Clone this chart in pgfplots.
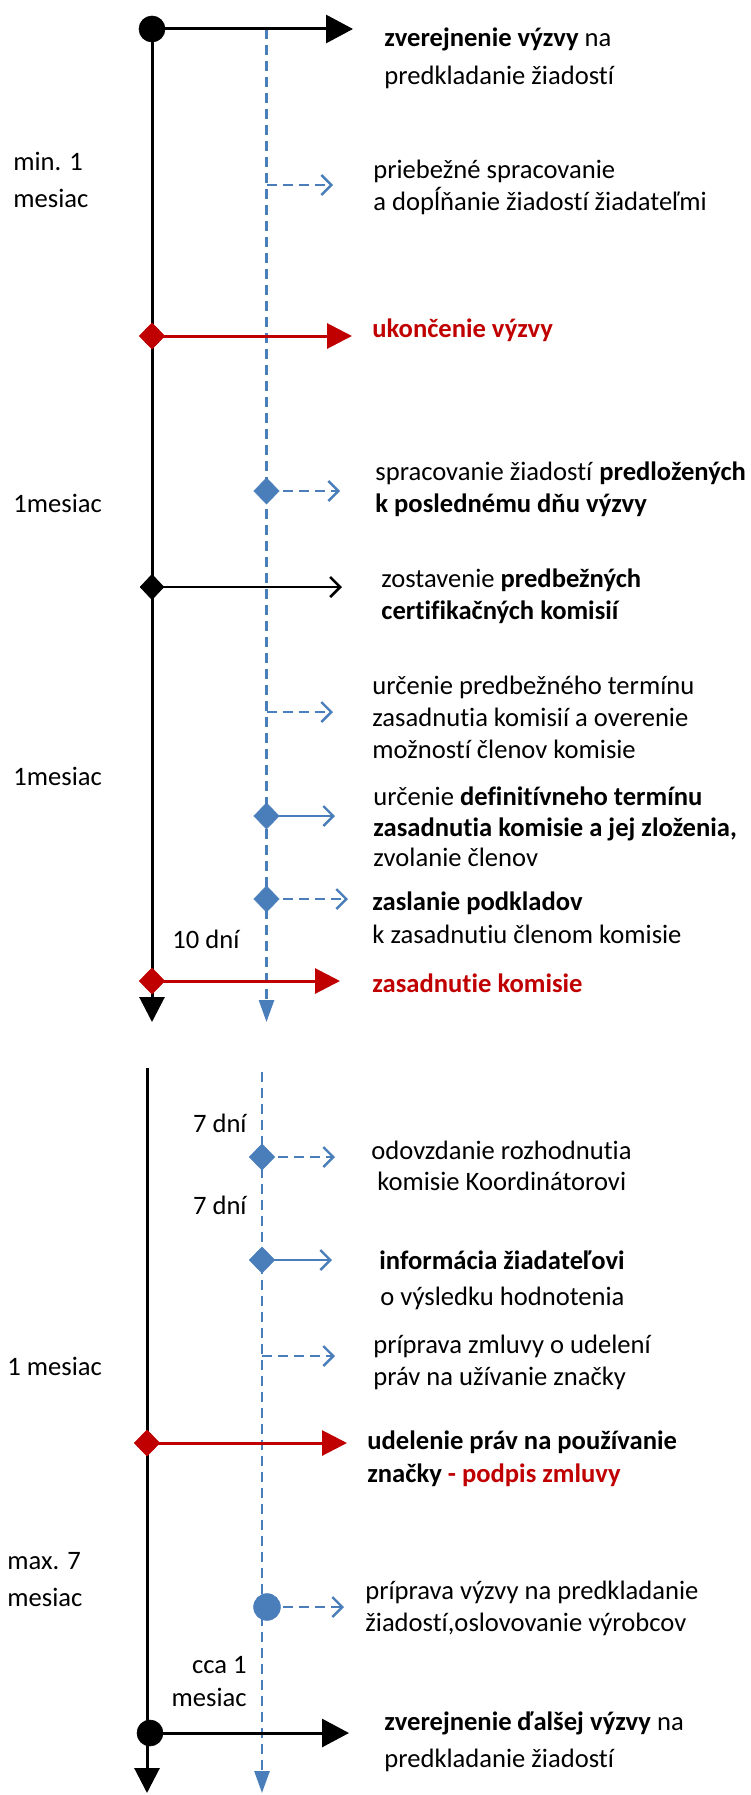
\documentclass[border=0pt]{standalone}
\usepackage{pgfplots}
\pgfplotsset{compat=1.18}
\usetikzlibrary{arrows.meta}
\usepackage{fontspec}
\setmainfont{Carlito}[Ligatures={NoCommon}]
\definecolor{obl}{HTML}{4A7EBB}
\definecolor{ored}{HTML}{C00000}
\begin{document}
\begin{tikzpicture}[
  lbl/.style={anchor=west, inner sep=0pt, text height=9bp, text depth=2bp, font=\fontsize{13.3bp}{16bp}\selectfont},
  lblr/.style={lbl, anchor=east},
]
\begin{axis}[
  width=375.5bp, height=897.5bp, scale only axis,
  xmin=0, xmax=751, ymin=0, ymax=1795, y dir=reverse,
  hide axis, clip=false,
]
\addplot[draw=none, forget plot] coordinates {(0,0) (751,1795)};

% vertical timelines
\addplot[black, line width=1.5bp, -{Triangle[length=12.5bp,width=12.5bp]}] coordinates {(152,29) (152,1022)};
\addplot[black, line width=1.5bp, -{Triangle[length=12.5bp,width=12.5bp]}] coordinates {(147,1068) (147,1793)};
\addplot[obl, line width=1.3bp, dash pattern=on 5bp off 3bp, -{Triangle[length=11bp,width=7.5bp]}] coordinates {(266.5,29) (266.5,1022)};
\addplot[obl, line width=1.3bp, dash pattern=on 5bp off 3bp, -{Triangle[length=11bp,width=7.5bp]}] coordinates {(262,1072) (262,1793)};

% main (black / red) horizontal arrows
\addplot[black, line width=1.5bp, -{Triangle[length=13.5bp,width=14bp]}] coordinates {(152,29) (353,29)};
\addplot[ored, line width=1.5bp, -{Triangle[length=12.5bp,width=12.5bp]}] coordinates {(152,336) (352,336)};
\addplot[black, line width=1.3bp, -{Straight Barb[length=5bp,width=10bp]}] coordinates {(152,587) (342,587)};
\addplot[ored, line width=1.5bp, -{Triangle[length=12.5bp,width=12.5bp]}] coordinates {(152,981) (340,981)};
\addplot[ored, line width=1.5bp, -{Triangle[length=12.5bp,width=12.5bp]}] coordinates {(147,1443) (347,1443)};
\addplot[black, line width=1.5bp, -{Triangle[length=13.5bp,width=14bp]}] coordinates {(150,1733) (349,1733)};

% blue side arrows
\addplot[obl, line width=1.2bp, dash pattern=on 5bp off 3bp, -{Straight Barb[length=5bp,width=10bp]}] coordinates {(266.5,185) (333,185)};
\addplot[obl, line width=1.2bp, dash pattern=on 5bp off 3bp, -{Straight Barb[length=5bp,width=10bp]}] coordinates {(266.5,491) (340,491)};
\addplot[obl, line width=1.2bp, dash pattern=on 5bp off 3bp, -{Straight Barb[length=5bp,width=10bp]}] coordinates {(266.5,712) (333,712)};
\addplot[obl, line width=1.2bp, -{Straight Barb[length=5bp,width=10bp]}] coordinates {(266.5,816) (335,816)};
\addplot[obl, line width=1.2bp, dash pattern=on 5bp off 3bp, -{Straight Barb[length=5bp,width=10bp]}] coordinates {(266.5,899) (348,899)};
\addplot[obl, line width=1.2bp, dash pattern=on 5bp off 3bp, -{Straight Barb[length=5bp,width=10bp]}] coordinates {(262,1157) (335,1157)};
\addplot[obl, line width=1.2bp, -{Straight Barb[length=5bp,width=10bp]}] coordinates {(262,1260) (332,1260)};
\addplot[obl, line width=1.2bp, dash pattern=on 5bp off 3bp, -{Straight Barb[length=5bp,width=10bp]}] coordinates {(262,1356) (335,1356)};
\addplot[obl, line width=1.2bp, dash pattern=on 5bp off 3bp, -{Straight Barb[length=5bp,width=10bp]}] coordinates {(267,1607) (344,1607)};

% markers
\addplot[black, only marks, mark=*, mark size=6.5bp, mark options={solid, fill=black, draw=black, line width=0.3bp}] coordinates {(152,29) (150,1733)};
\addplot[ored, only marks, mark=diamond*, mark size=6.5bp, mark options={solid, xscale=1.3, fill=ored, draw=ored, line width=0.3bp}] coordinates {(152,336) (152,981) (147,1443)};
\addplot[black, only marks, mark=diamond*, mark size=6.3bp, mark options={solid, xscale=1.25, fill=black, draw=black, line width=0.3bp}] coordinates {(152,587)};
\addplot[obl, only marks, mark=diamond*, mark size=6.5bp, mark options={solid, xscale=1.3, fill=obl, draw=obl, line width=0.3bp}] coordinates {(266.5,491) (266.5,816) (266.5,899) (262,1157) (262,1260)};
\addplot[obl, only marks, mark=*, mark size=6.7bp, mark options={solid, fill=obl, draw=obl, line width=0.3bp}] coordinates {(267,1607)};

% right-hand texts
\node[lbl] at (axis cs:384,40) {\textbf{zverejnenie výzvy} na};
\node[lbl] at (axis cs:384,77) {predkladanie žiadostí};
\node[lbl] at (axis cs:373,171) {priebežné spracovanie};
\node[lbl] at (axis cs:373,203) {a dopĺňanie žiadostí žiadateľmi};
\node[lbl, text=ored] at (axis cs:372,330) {\textbf{ukončenie výzvy}};
\node[lbl] at (axis cs:375,473) {spracovanie žiadostí \textbf{predložených}};
\node[lbl] at (axis cs:375,505) {\textbf{k poslednému dňu výzvy}};
\node[lbl] at (axis cs:381,580) {zostavenie \textbf{predbežných}};
\node[lbl] at (axis cs:381,612) {\textbf{certifikačných komisií}};
\node[lbl] at (axis cs:372,687) {určenie predbežného termínu};
\node[lbl] at (axis cs:372,719) {zasadnutia komisií a overenie};
\node[lbl] at (axis cs:372,751) {možností členov komisie};
\node[lbl] at (axis cs:373,798) {určenie \textbf{definitívneho termínu}};
\node[lbl] at (axis cs:373,829) {\textbf{zasadnutia komisie a jej zloženia,}};
\node[lbl] at (axis cs:373,859) {zvolanie členov};
\node[lbl] at (axis cs:372,903) {\textbf{zaslanie podkladov}};
\node[lbl] at (axis cs:372,936) {k zasadnutiu členom komisie};
\node[lbl, text=ored] at (axis cs:372,985) {\textbf{zasadnutie komisie}};
\node[lbl] at (axis cs:371,1152) {odovzdanie rozhodnutia};
\node[lbl] at (axis cs:377,1183) {komisie Koordinátorovi};
\node[lbl] at (axis cs:379,1262) {\textbf{informácia žiadateľovi}};
\node[lbl] at (axis cs:380,1298) {o výsledku hodnotenia};
\node[lbl] at (axis cs:373,1346) {príprava zmluvy o udelení};
\node[lbl] at (axis cs:373,1378) {práv na užívanie značky};
\node[lbl] at (axis cs:367,1442) {\textbf{udelenie práv na používanie}};
\node[lbl] at (axis cs:367,1475) {\textbf{značky \textcolor{ored}{- podpis zmluvy}}};
\node[lbl] at (axis cs:365,1592) {príprava výzvy na predkladanie};
\node[lbl] at (axis cs:365,1624) {žiadostí,oslovovanie výrobcov};
\node[lbl] at (axis cs:384,1723) {\textbf{zverejnenie ďalšej výzvy} na};
\node[lbl] at (axis cs:384,1760) {predkladanie žiadostí};

% left-hand duration labels
\node[lbl] at (axis cs:13,163) {min. 1};
\node[lbl] at (axis cs:13,200) {mesiac};
\node[lbl] at (axis cs:13,505) {1mesiac};
\node[lbl] at (axis cs:13,778) {1mesiac};
\node[lbl] at (axis cs:172,941) {10 dní};
\node[lblr] at (axis cs:247,1125) {7 dní};
\node[lblr] at (axis cs:247,1207) {7 dní};
\node[lbl] at (axis cs:7,1368) {1 mesiac};
\node[lbl] at (axis cs:7,1562) {max. 7};
\node[lbl] at (axis cs:7,1599) {mesiac};
\node[lblr] at (axis cs:247,1666) {cca 1};
\node[lblr] at (axis cs:247,1699) {mesiac};
\end{axis}
\end{tikzpicture}
\end{document}
